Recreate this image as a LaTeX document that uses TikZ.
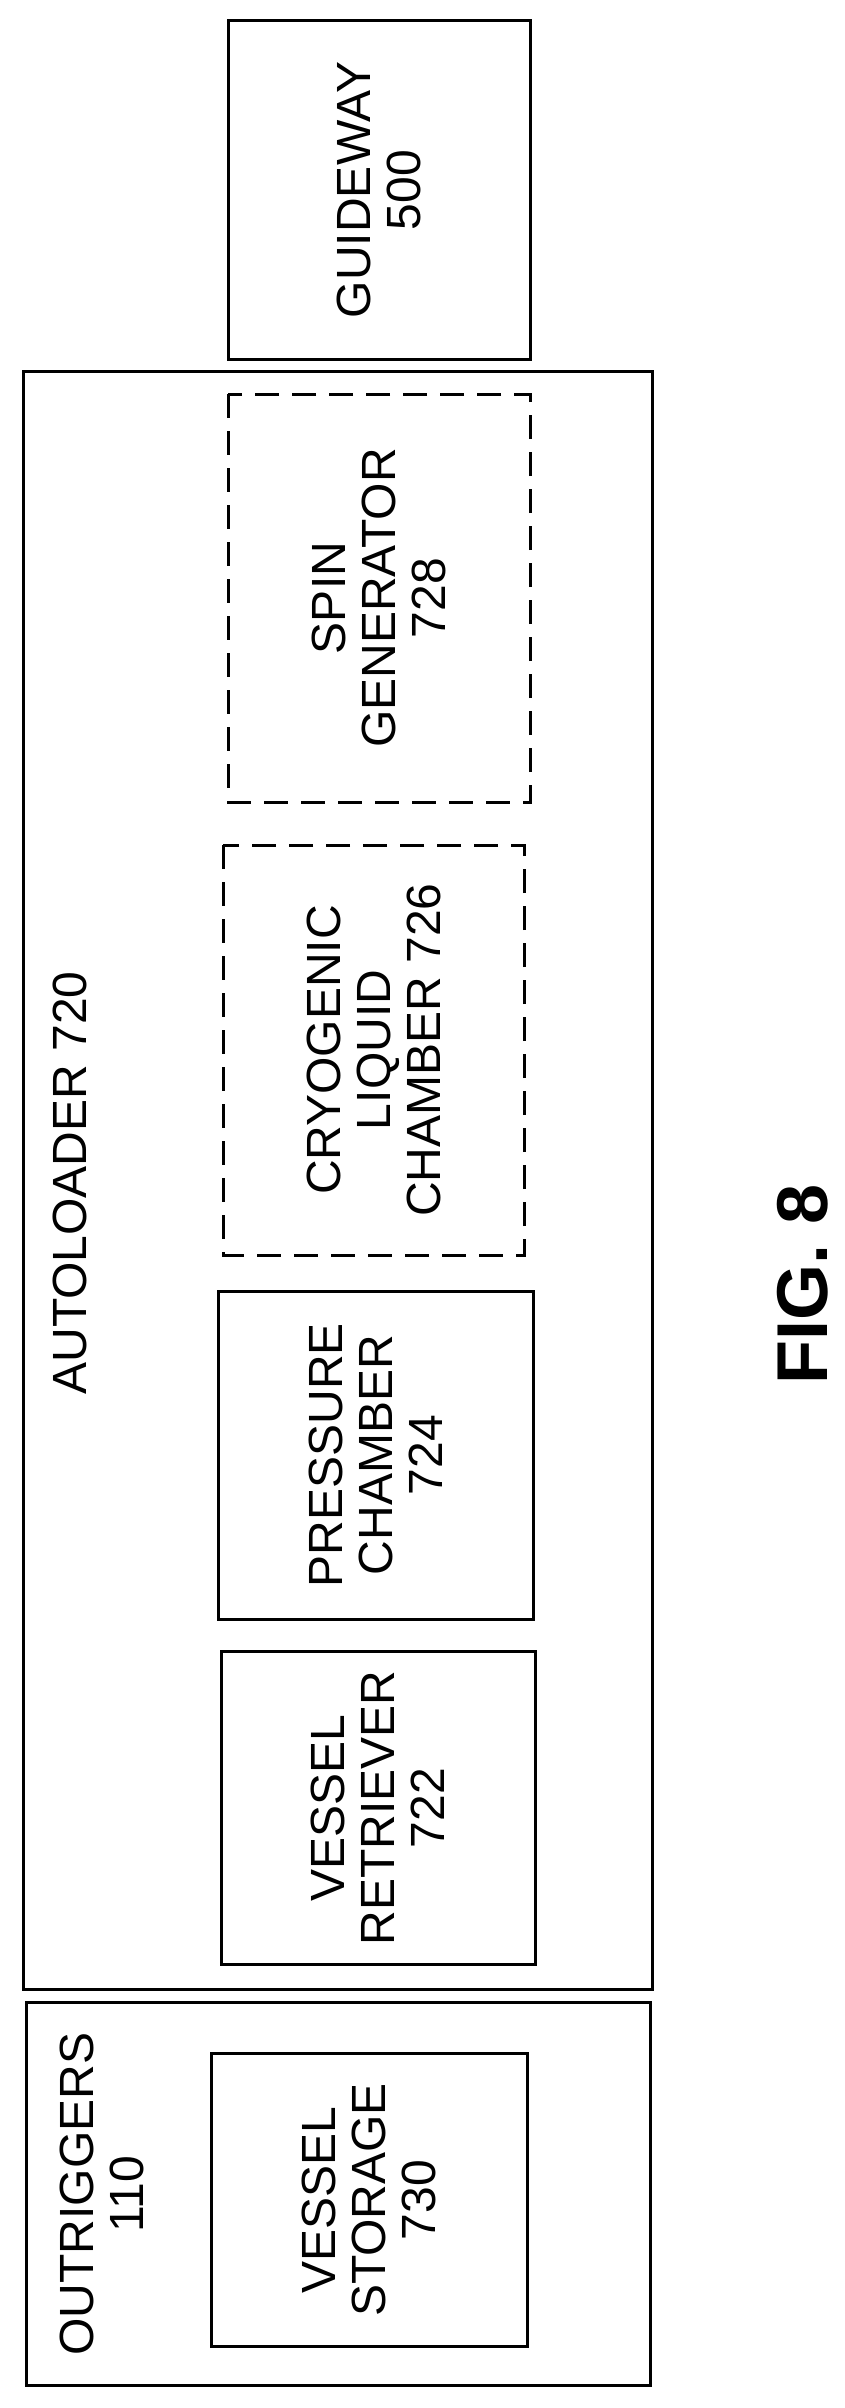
\documentclass[tikz,border=0pt]{standalone}
\usepackage{fontspec}
\setmainfont{Liberation Sans}
\usetikzlibrary{positioning}
\tikzset{
  blk/.style={draw, line width=1.5pt, rotate=90, align=center, inner sep=0pt},
  dblk/.style={blk, dashed, dash pattern=on 12pt off 6.5pt},
  lbl/.style={rotate=90, align=center, inner sep=0pt},
}
\begin{document}
\begin{tikzpicture}[x=0.5pt,y=-0.5pt,font=\fontsize{24}{25}\selectfont]
\useasboundingbox (0,0) rectangle (845,2408);
% outer groups
\node[blk, minimum width=1618*0.5pt, minimum height=629*0.5pt] (auto) at (337.5,1180) {};
\node[blk, minimum width=383*0.5pt, minimum height=624*0.5pt] (outr) at (338,2194) {};
\node[lbl] (autolbl) at (70,1183) {AUTOLOADER 720};
\node[lbl] (outrlbl) at (102,2194) {OUTRIGGERS\\110};
% inner blocks
\node[blk, minimum width=338*0.5pt, minimum height=302*0.5pt] (guide) at (379,190) {GUIDEWAY\\500};
\node[dblk, minimum width=408*0.5pt, minimum height=302*0.5pt] (spin) at (379,598) {SPIN\\GENERATOR\\728};
\node[dblk, minimum width=410*0.5pt, minimum height=301*0.5pt] (cryo) at (373.5,1050) {CRYOGENIC\\LIQUID\\CHAMBER 726};
\node[blk, minimum width=328*0.5pt, minimum height=315*0.5pt] (press) at (375.5,1455) {PRESSURE\\CHAMBER\\724};
\node[blk, minimum width=313*0.5pt, minimum height=314*0.5pt] (retr) at (378,1808) {VESSEL\\RETRIEVER\\722};
\node[blk, minimum width=293*0.5pt, minimum height=316*0.5pt] (stor) at (369,2200) {VESSEL\\STORAGE\\730};
\node[lbl, font=\fontsize{36}{40}\selectfont\bfseries] (fig) at (803,1284) {FIG. 8};
\end{tikzpicture}
\end{document}
